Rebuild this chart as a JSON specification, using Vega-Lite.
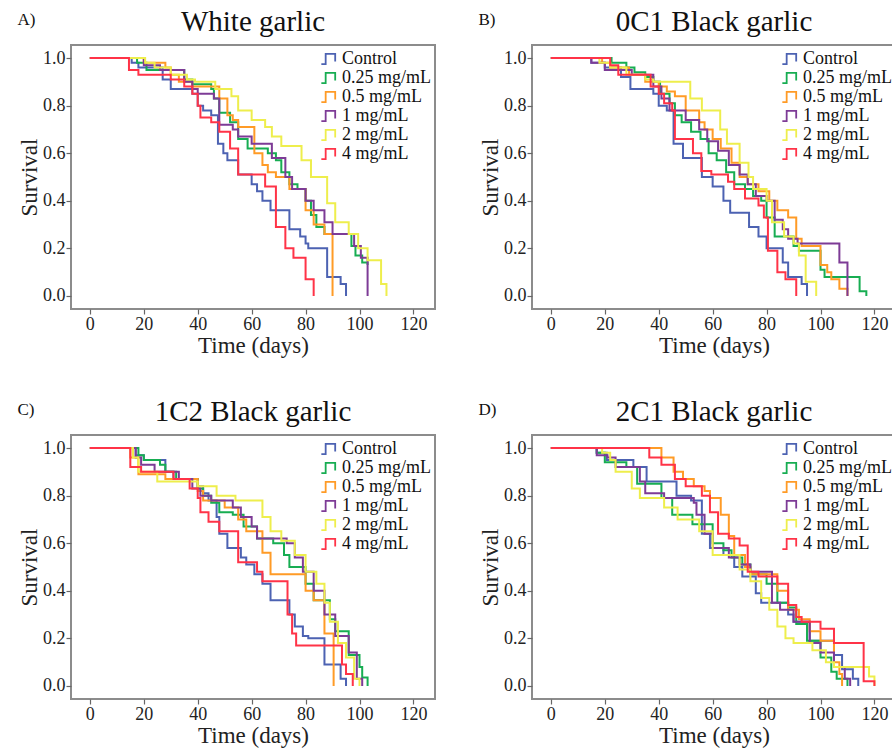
{
"$schema":"https://vega.github.io/schema/vega-lite/v6.json",
"padding":{"left":17,"top":7,"right":0,"bottom":0},
"config":{
 "font":"Liberation Serif",
 "view":{"stroke":"#8c8c8c","strokeWidth":2},
 "axis":{"domain":false,"grid":false,"tickColor":"#666","tickSize":5,"tickWidth":1.2,"labelFontSize":18,"labelColor":"#222","labelFont":"Liberation Serif","titleFontSize":23,"titleFontWeight":"normal","titleColor":"#222","titleFont":"Liberation Serif","labelPadding":1,"titlePadding":1},
 "title":{"fontSize":29,"fontWeight":"normal","font":"Liberation Serif","color":"#111","offset":8},
 "legend":{"orient":"top-right","offset":4,"padding":0,"rowPadding":0,"labelFontSize":18,"labelFont":"Liberation Serif","labelColor":"#111","labelOffset":2,"symbolType":"M-1,0.6H-0.5V-0.6H0.6V0.3","symbolSize":300,"symbolStrokeWidth":1.8}
},
"datasets":{"km":[
{"p":"A","g":"Control","t":0,"s":1},{"p":"A","g":"Control","t":15.5,"s":0.98},{"p":"A","g":"Control","t":18,"s":0.96},{"p":"A","g":"Control","t":27,"s":0.91},{"p":"A","g":"Control","t":30,"s":0.87},{"p":"A","g":"Control","t":38,"s":0.85},{"p":"A","g":"Control","t":40,"s":0.8},{"p":"A","g":"Control","t":42,"s":0.78},{"p":"A","g":"Control","t":45,"s":0.76},{"p":"A","g":"Control","t":47.5,"s":0.64},{"p":"A","g":"Control","t":49.5,"s":0.6},{"p":"A","g":"Control","t":51,"s":0.57},{"p":"A","g":"Control","t":55,"s":0.51},{"p":"A","g":"Control","t":60,"s":0.47},{"p":"A","g":"Control","t":62,"s":0.44},{"p":"A","g":"Control","t":64,"s":0.4},{"p":"A","g":"Control","t":67,"s":0.36},{"p":"A","g":"Control","t":74,"s":0.28},{"p":"A","g":"Control","t":78,"s":0.25},{"p":"A","g":"Control","t":80,"s":0.22},{"p":"A","g":"Control","t":81,"s":0.2},{"p":"A","g":"Control","t":88,"s":0.08},{"p":"A","g":"Control","t":93,"s":0.05},{"p":"A","g":"Control","t":95,"s":0},
{"p":"A","g":"0.25 mg/mL","t":0,"s":1},{"p":"A","g":"0.25 mg/mL","t":17.5,"s":0.98},{"p":"A","g":"0.25 mg/mL","t":21,"s":0.95},{"p":"A","g":"0.25 mg/mL","t":35,"s":0.91},{"p":"A","g":"0.25 mg/mL","t":38,"s":0.89},{"p":"A","g":"0.25 mg/mL","t":45,"s":0.87},{"p":"A","g":"0.25 mg/mL","t":46,"s":0.83},{"p":"A","g":"0.25 mg/mL","t":48,"s":0.77},{"p":"A","g":"0.25 mg/mL","t":52,"s":0.73},{"p":"A","g":"0.25 mg/mL","t":55,"s":0.66},{"p":"A","g":"0.25 mg/mL","t":58.5,"s":0.62},{"p":"A","g":"0.25 mg/mL","t":66,"s":0.6},{"p":"A","g":"0.25 mg/mL","t":69,"s":0.57},{"p":"A","g":"0.25 mg/mL","t":71,"s":0.52},{"p":"A","g":"0.25 mg/mL","t":74,"s":0.47},{"p":"A","g":"0.25 mg/mL","t":77,"s":0.45},{"p":"A","g":"0.25 mg/mL","t":80,"s":0.4},{"p":"A","g":"0.25 mg/mL","t":82,"s":0.34},{"p":"A","g":"0.25 mg/mL","t":84,"s":0.29},{"p":"A","g":"0.25 mg/mL","t":87,"s":0.26},{"p":"A","g":"0.25 mg/mL","t":97,"s":0.21},{"p":"A","g":"0.25 mg/mL","t":98.5,"s":0.17},{"p":"A","g":"0.25 mg/mL","t":101,"s":0.14},{"p":"A","g":"0.25 mg/mL","t":103,"s":0.13},
{"p":"A","g":"0.5 mg/mL","t":0,"s":1},{"p":"A","g":"0.5 mg/mL","t":20,"s":0.98},{"p":"A","g":"0.5 mg/mL","t":28,"s":0.96},{"p":"A","g":"0.5 mg/mL","t":30,"s":0.93},{"p":"A","g":"0.5 mg/mL","t":33,"s":0.9},{"p":"A","g":"0.5 mg/mL","t":38,"s":0.88},{"p":"A","g":"0.5 mg/mL","t":48,"s":0.83},{"p":"A","g":"0.5 mg/mL","t":51,"s":0.76},{"p":"A","g":"0.5 mg/mL","t":53,"s":0.74},{"p":"A","g":"0.5 mg/mL","t":55,"s":0.71},{"p":"A","g":"0.5 mg/mL","t":61,"s":0.6},{"p":"A","g":"0.5 mg/mL","t":64,"s":0.55},{"p":"A","g":"0.5 mg/mL","t":66,"s":0.52},{"p":"A","g":"0.5 mg/mL","t":69,"s":0.5},{"p":"A","g":"0.5 mg/mL","t":74,"s":0.45},{"p":"A","g":"0.5 mg/mL","t":80,"s":0.36},{"p":"A","g":"0.5 mg/mL","t":83,"s":0.3},{"p":"A","g":"0.5 mg/mL","t":87,"s":0.26},{"p":"A","g":"0.5 mg/mL","t":90,"s":0},
{"p":"A","g":"1 mg/mL","t":0,"s":1},{"p":"A","g":"1 mg/mL","t":20,"s":0.97},{"p":"A","g":"1 mg/mL","t":26,"s":0.95},{"p":"A","g":"1 mg/mL","t":35,"s":0.9},{"p":"A","g":"1 mg/mL","t":38,"s":0.87},{"p":"A","g":"1 mg/mL","t":40,"s":0.85},{"p":"A","g":"1 mg/mL","t":46,"s":0.83},{"p":"A","g":"1 mg/mL","t":48,"s":0.72},{"p":"A","g":"1 mg/mL","t":53,"s":0.7},{"p":"A","g":"1 mg/mL","t":55,"s":0.67},{"p":"A","g":"1 mg/mL","t":60,"s":0.64},{"p":"A","g":"1 mg/mL","t":67.5,"s":0.58},{"p":"A","g":"1 mg/mL","t":72.5,"s":0.5},{"p":"A","g":"1 mg/mL","t":75,"s":0.45},{"p":"A","g":"1 mg/mL","t":80,"s":0.4},{"p":"A","g":"1 mg/mL","t":83,"s":0.36},{"p":"A","g":"1 mg/mL","t":87,"s":0.31},{"p":"A","g":"1 mg/mL","t":90,"s":0.26},{"p":"A","g":"1 mg/mL","t":98,"s":0.21},{"p":"A","g":"1 mg/mL","t":100.5,"s":0.16},{"p":"A","g":"1 mg/mL","t":103,"s":0},
{"p":"A","g":"2 mg/mL","t":0,"s":1},{"p":"A","g":"2 mg/mL","t":20.5,"s":0.98},{"p":"A","g":"2 mg/mL","t":24,"s":0.96},{"p":"A","g":"2 mg/mL","t":30,"s":0.93},{"p":"A","g":"2 mg/mL","t":36,"s":0.91},{"p":"A","g":"2 mg/mL","t":39,"s":0.9},{"p":"A","g":"2 mg/mL","t":46.5,"s":0.87},{"p":"A","g":"2 mg/mL","t":52.5,"s":0.84},{"p":"A","g":"2 mg/mL","t":55,"s":0.78},{"p":"A","g":"2 mg/mL","t":60,"s":0.74},{"p":"A","g":"2 mg/mL","t":65,"s":0.71},{"p":"A","g":"2 mg/mL","t":67.5,"s":0.67},{"p":"A","g":"2 mg/mL","t":71,"s":0.63},{"p":"A","g":"2 mg/mL","t":78.5,"s":0.57},{"p":"A","g":"2 mg/mL","t":82,"s":0.5},{"p":"A","g":"2 mg/mL","t":88,"s":0.39},{"p":"A","g":"2 mg/mL","t":91,"s":0.31},{"p":"A","g":"2 mg/mL","t":96,"s":0.26},{"p":"A","g":"2 mg/mL","t":99.5,"s":0.2},{"p":"A","g":"2 mg/mL","t":103,"s":0.15},{"p":"A","g":"2 mg/mL","t":108,"s":0.05},{"p":"A","g":"2 mg/mL","t":110,"s":0},
{"p":"A","g":"4 mg/mL","t":0,"s":1},{"p":"A","g":"4 mg/mL","t":14.5,"s":0.95},{"p":"A","g":"4 mg/mL","t":18,"s":0.93},{"p":"A","g":"4 mg/mL","t":30,"s":0.91},{"p":"A","g":"4 mg/mL","t":35,"s":0.88},{"p":"A","g":"4 mg/mL","t":38,"s":0.85},{"p":"A","g":"4 mg/mL","t":40,"s":0.8},{"p":"A","g":"4 mg/mL","t":41,"s":0.75},{"p":"A","g":"4 mg/mL","t":45,"s":0.73},{"p":"A","g":"4 mg/mL","t":48,"s":0.69},{"p":"A","g":"4 mg/mL","t":52,"s":0.62},{"p":"A","g":"4 mg/mL","t":55,"s":0.51},{"p":"A","g":"4 mg/mL","t":65,"s":0.46},{"p":"A","g":"4 mg/mL","t":69,"s":0.29},{"p":"A","g":"4 mg/mL","t":72.5,"s":0.2},{"p":"A","g":"4 mg/mL","t":75.5,"s":0.16},{"p":"A","g":"4 mg/mL","t":80,"s":0.07},{"p":"A","g":"4 mg/mL","t":83,"s":0},

{"p":"B","g":"Control","t":0,"s":1},{"p":"B","g":"Control","t":15,"s":0.98},{"p":"B","g":"Control","t":20,"s":0.96},{"p":"B","g":"Control","t":26,"s":0.92},{"p":"B","g":"Control","t":29.5,"s":0.87},{"p":"B","g":"Control","t":38,"s":0.85},{"p":"B","g":"Control","t":40,"s":0.8},{"p":"B","g":"Control","t":43,"s":0.78},{"p":"B","g":"Control","t":45.5,"s":0.64},{"p":"B","g":"Control","t":49,"s":0.58},{"p":"B","g":"Control","t":56,"s":0.5},{"p":"B","g":"Control","t":60,"s":0.46},{"p":"B","g":"Control","t":64,"s":0.4},{"p":"B","g":"Control","t":66.5,"s":0.35},{"p":"B","g":"Control","t":73.5,"s":0.29},{"p":"B","g":"Control","t":77,"s":0.25},{"p":"B","g":"Control","t":80,"s":0.2},{"p":"B","g":"Control","t":86,"s":0.14},{"p":"B","g":"Control","t":88,"s":0.08},{"p":"B","g":"Control","t":93,"s":0.05},{"p":"B","g":"Control","t":95,"s":0},
{"p":"B","g":"0.25 mg/mL","t":0,"s":1},{"p":"B","g":"0.25 mg/mL","t":22.5,"s":0.98},{"p":"B","g":"0.25 mg/mL","t":28,"s":0.96},{"p":"B","g":"0.25 mg/mL","t":31,"s":0.94},{"p":"B","g":"0.25 mg/mL","t":35,"s":0.92},{"p":"B","g":"0.25 mg/mL","t":38,"s":0.9},{"p":"B","g":"0.25 mg/mL","t":40.5,"s":0.85},{"p":"B","g":"0.25 mg/mL","t":44,"s":0.81},{"p":"B","g":"0.25 mg/mL","t":46,"s":0.76},{"p":"B","g":"0.25 mg/mL","t":48.5,"s":0.73},{"p":"B","g":"0.25 mg/mL","t":52,"s":0.69},{"p":"B","g":"0.25 mg/mL","t":55.5,"s":0.66},{"p":"B","g":"0.25 mg/mL","t":58.5,"s":0.6},{"p":"B","g":"0.25 mg/mL","t":61.5,"s":0.57},{"p":"B","g":"0.25 mg/mL","t":65,"s":0.52},{"p":"B","g":"0.25 mg/mL","t":68,"s":0.47},{"p":"B","g":"0.25 mg/mL","t":72,"s":0.45},{"p":"B","g":"0.25 mg/mL","t":75,"s":0.42},{"p":"B","g":"0.25 mg/mL","t":78,"s":0.4},{"p":"B","g":"0.25 mg/mL","t":80,"s":0.33},{"p":"B","g":"0.25 mg/mL","t":83,"s":0.25},{"p":"B","g":"0.25 mg/mL","t":90,"s":0.21},{"p":"B","g":"0.25 mg/mL","t":92,"s":0.19},{"p":"B","g":"0.25 mg/mL","t":100,"s":0.11},{"p":"B","g":"0.25 mg/mL","t":101.5,"s":0.08},{"p":"B","g":"0.25 mg/mL","t":114.5,"s":0.02},{"p":"B","g":"0.25 mg/mL","t":117,"s":0},
{"p":"B","g":"0.5 mg/mL","t":0,"s":1},{"p":"B","g":"0.5 mg/mL","t":19,"s":0.98},{"p":"B","g":"0.5 mg/mL","t":22,"s":0.96},{"p":"B","g":"0.5 mg/mL","t":29,"s":0.93},{"p":"B","g":"0.5 mg/mL","t":35,"s":0.9},{"p":"B","g":"0.5 mg/mL","t":40,"s":0.88},{"p":"B","g":"0.5 mg/mL","t":43,"s":0.86},{"p":"B","g":"0.5 mg/mL","t":46,"s":0.84},{"p":"B","g":"0.5 mg/mL","t":50,"s":0.78},{"p":"B","g":"0.5 mg/mL","t":55,"s":0.73},{"p":"B","g":"0.5 mg/mL","t":57,"s":0.7},{"p":"B","g":"0.5 mg/mL","t":60,"s":0.66},{"p":"B","g":"0.5 mg/mL","t":63,"s":0.62},{"p":"B","g":"0.5 mg/mL","t":67,"s":0.56},{"p":"B","g":"0.5 mg/mL","t":70,"s":0.5},{"p":"B","g":"0.5 mg/mL","t":73,"s":0.47},{"p":"B","g":"0.5 mg/mL","t":77,"s":0.44},{"p":"B","g":"0.5 mg/mL","t":81,"s":0.4},{"p":"B","g":"0.5 mg/mL","t":84,"s":0.36},{"p":"B","g":"0.5 mg/mL","t":88,"s":0.33},{"p":"B","g":"0.5 mg/mL","t":91,"s":0.24},{"p":"B","g":"0.5 mg/mL","t":93,"s":0.21},{"p":"B","g":"0.5 mg/mL","t":100,"s":0.13},{"p":"B","g":"0.5 mg/mL","t":102.5,"s":0.1},{"p":"B","g":"0.5 mg/mL","t":104,"s":0.07},{"p":"B","g":"0.5 mg/mL","t":107,"s":0.03},{"p":"B","g":"0.5 mg/mL","t":110,"s":0},
{"p":"B","g":"1 mg/mL","t":0,"s":1},{"p":"B","g":"1 mg/mL","t":15,"s":0.98},{"p":"B","g":"1 mg/mL","t":20,"s":0.95},{"p":"B","g":"1 mg/mL","t":30,"s":0.93},{"p":"B","g":"1 mg/mL","t":38,"s":0.88},{"p":"B","g":"1 mg/mL","t":41,"s":0.83},{"p":"B","g":"1 mg/mL","t":44,"s":0.78},{"p":"B","g":"1 mg/mL","t":50,"s":0.74},{"p":"B","g":"1 mg/mL","t":55,"s":0.7},{"p":"B","g":"1 mg/mL","t":58,"s":0.65},{"p":"B","g":"1 mg/mL","t":62,"s":0.61},{"p":"B","g":"1 mg/mL","t":66,"s":0.55},{"p":"B","g":"1 mg/mL","t":70,"s":0.51},{"p":"B","g":"1 mg/mL","t":73,"s":0.47},{"p":"B","g":"1 mg/mL","t":76,"s":0.42},{"p":"B","g":"1 mg/mL","t":80,"s":0.4},{"p":"B","g":"1 mg/mL","t":83,"s":0.32},{"p":"B","g":"1 mg/mL","t":86,"s":0.28},{"p":"B","g":"1 mg/mL","t":88,"s":0.24},{"p":"B","g":"1 mg/mL","t":91.5,"s":0.22},{"p":"B","g":"1 mg/mL","t":107,"s":0.14},{"p":"B","g":"1 mg/mL","t":110,"s":0},
{"p":"B","g":"2 mg/mL","t":0,"s":1},{"p":"B","g":"2 mg/mL","t":18,"s":0.98},{"p":"B","g":"2 mg/mL","t":22,"s":0.96},{"p":"B","g":"2 mg/mL","t":28,"s":0.93},{"p":"B","g":"2 mg/mL","t":35,"s":0.91},{"p":"B","g":"2 mg/mL","t":38,"s":0.9},{"p":"B","g":"2 mg/mL","t":51.7,"s":0.83},{"p":"B","g":"2 mg/mL","t":56,"s":0.78},{"p":"B","g":"2 mg/mL","t":62.8,"s":0.7},{"p":"B","g":"2 mg/mL","t":65.3,"s":0.64},{"p":"B","g":"2 mg/mL","t":70,"s":0.56},{"p":"B","g":"2 mg/mL","t":73.3,"s":0.5},{"p":"B","g":"2 mg/mL","t":75,"s":0.45},{"p":"B","g":"2 mg/mL","t":80,"s":0.4},{"p":"B","g":"2 mg/mL","t":82,"s":0.31},{"p":"B","g":"2 mg/mL","t":86.5,"s":0.25},{"p":"B","g":"2 mg/mL","t":90,"s":0.22},{"p":"B","g":"2 mg/mL","t":92,"s":0.17},{"p":"B","g":"2 mg/mL","t":94.5,"s":0.06},{"p":"B","g":"2 mg/mL","t":98.4,"s":0},
{"p":"B","g":"4 mg/mL","t":0,"s":1},{"p":"B","g":"4 mg/mL","t":22,"s":0.97},{"p":"B","g":"4 mg/mL","t":25,"s":0.93},{"p":"B","g":"4 mg/mL","t":37,"s":0.88},{"p":"B","g":"4 mg/mL","t":40,"s":0.85},{"p":"B","g":"4 mg/mL","t":42,"s":0.81},{"p":"B","g":"4 mg/mL","t":45,"s":0.78},{"p":"B","g":"4 mg/mL","t":46,"s":0.66},{"p":"B","g":"4 mg/mL","t":52.7,"s":0.6},{"p":"B","g":"4 mg/mL","t":55.8,"s":0.525},{"p":"B","g":"4 mg/mL","t":59.5,"s":0.51},{"p":"B","g":"4 mg/mL","t":65.7,"s":0.48},{"p":"B","g":"4 mg/mL","t":68,"s":0.45},{"p":"B","g":"4 mg/mL","t":72,"s":0.41},{"p":"B","g":"4 mg/mL","t":77,"s":0.38},{"p":"B","g":"4 mg/mL","t":79,"s":0.33},{"p":"B","g":"4 mg/mL","t":80.5,"s":0.19},{"p":"B","g":"4 mg/mL","t":84,"s":0.1},{"p":"B","g":"4 mg/mL","t":87,"s":0.07},{"p":"B","g":"4 mg/mL","t":91,"s":0},

{"p":"C","g":"Control","t":0,"s":1},{"p":"C","g":"Control","t":17,"s":0.97},{"p":"C","g":"Control","t":20,"s":0.95},{"p":"C","g":"Control","t":28,"s":0.9},{"p":"C","g":"Control","t":31,"s":0.87},{"p":"C","g":"Control","t":40,"s":0.84},{"p":"C","g":"Control","t":42,"s":0.81},{"p":"C","g":"Control","t":44,"s":0.78},{"p":"C","g":"Control","t":47,"s":0.71},{"p":"C","g":"Control","t":48,"s":0.64},{"p":"C","g":"Control","t":51,"s":0.58},{"p":"C","g":"Control","t":56,"s":0.54},{"p":"C","g":"Control","t":58,"s":0.51},{"p":"C","g":"Control","t":61,"s":0.47},{"p":"C","g":"Control","t":64,"s":0.43},{"p":"C","g":"Control","t":67,"s":0.36},{"p":"C","g":"Control","t":74,"s":0.3},{"p":"C","g":"Control","t":76,"s":0.25},{"p":"C","g":"Control","t":79,"s":0.21},{"p":"C","g":"Control","t":81,"s":0.2},{"p":"C","g":"Control","t":87,"s":0.09},{"p":"C","g":"Control","t":93,"s":0.03},{"p":"C","g":"Control","t":95,"s":0},
{"p":"C","g":"0.25 mg/mL","t":0,"s":1},{"p":"C","g":"0.25 mg/mL","t":18,"s":0.97},{"p":"C","g":"0.25 mg/mL","t":20,"s":0.95},{"p":"C","g":"0.25 mg/mL","t":26,"s":0.93},{"p":"C","g":"0.25 mg/mL","t":28,"s":0.9},{"p":"C","g":"0.25 mg/mL","t":32,"s":0.87},{"p":"C","g":"0.25 mg/mL","t":40,"s":0.83},{"p":"C","g":"0.25 mg/mL","t":42,"s":0.8},{"p":"C","g":"0.25 mg/mL","t":45,"s":0.77},{"p":"C","g":"0.25 mg/mL","t":48,"s":0.73},{"p":"C","g":"0.25 mg/mL","t":53,"s":0.72},{"p":"C","g":"0.25 mg/mL","t":57,"s":0.67},{"p":"C","g":"0.25 mg/mL","t":62,"s":0.62},{"p":"C","g":"0.25 mg/mL","t":68,"s":0.6},{"p":"C","g":"0.25 mg/mL","t":72,"s":0.55},{"p":"C","g":"0.25 mg/mL","t":74,"s":0.5},{"p":"C","g":"0.25 mg/mL","t":80,"s":0.43},{"p":"C","g":"0.25 mg/mL","t":83,"s":0.36},{"p":"C","g":"0.25 mg/mL","t":89,"s":0.28},{"p":"C","g":"0.25 mg/mL","t":91,"s":0.23},{"p":"C","g":"0.25 mg/mL","t":96,"s":0.13},{"p":"C","g":"0.25 mg/mL","t":100,"s":0.08},{"p":"C","g":"0.25 mg/mL","t":101,"s":0.035},{"p":"C","g":"0.25 mg/mL","t":103,"s":0},
{"p":"C","g":"0.5 mg/mL","t":0,"s":1},{"p":"C","g":"0.5 mg/mL","t":15,"s":0.96},{"p":"C","g":"0.5 mg/mL","t":18,"s":0.89},{"p":"C","g":"0.5 mg/mL","t":28,"s":0.87},{"p":"C","g":"0.5 mg/mL","t":40,"s":0.82},{"p":"C","g":"0.5 mg/mL","t":42,"s":0.78},{"p":"C","g":"0.5 mg/mL","t":50,"s":0.75},{"p":"C","g":"0.5 mg/mL","t":55,"s":0.7},{"p":"C","g":"0.5 mg/mL","t":58,"s":0.65},{"p":"C","g":"0.5 mg/mL","t":64,"s":0.56},{"p":"C","g":"0.5 mg/mL","t":67,"s":0.47},{"p":"C","g":"0.5 mg/mL","t":80,"s":0.4},{"p":"C","g":"0.5 mg/mL","t":83,"s":0.36},{"p":"C","g":"0.5 mg/mL","t":87,"s":0.22},{"p":"C","g":"0.5 mg/mL","t":90.4,"s":0},
{"p":"C","g":"1 mg/mL","t":0,"s":1},{"p":"C","g":"1 mg/mL","t":17,"s":0.96},{"p":"C","g":"1 mg/mL","t":19,"s":0.93},{"p":"C","g":"1 mg/mL","t":24,"s":0.9},{"p":"C","g":"1 mg/mL","t":33,"s":0.87},{"p":"C","g":"1 mg/mL","t":38,"s":0.83},{"p":"C","g":"1 mg/mL","t":41,"s":0.8},{"p":"C","g":"1 mg/mL","t":45,"s":0.78},{"p":"C","g":"1 mg/mL","t":53,"s":0.75},{"p":"C","g":"1 mg/mL","t":56,"s":0.71},{"p":"C","g":"1 mg/mL","t":60,"s":0.67},{"p":"C","g":"1 mg/mL","t":62,"s":0.62},{"p":"C","g":"1 mg/mL","t":73,"s":0.6},{"p":"C","g":"1 mg/mL","t":76,"s":0.54},{"p":"C","g":"1 mg/mL","t":79,"s":0.48},{"p":"C","g":"1 mg/mL","t":83,"s":0.4},{"p":"C","g":"1 mg/mL","t":87,"s":0.3},{"p":"C","g":"1 mg/mL","t":91,"s":0.21},{"p":"C","g":"1 mg/mL","t":96,"s":0.14},{"p":"C","g":"1 mg/mL","t":99,"s":0.03},{"p":"C","g":"1 mg/mL","t":101,"s":0},
{"p":"C","g":"2 mg/mL","t":0,"s":1},{"p":"C","g":"2 mg/mL","t":16,"s":0.96},{"p":"C","g":"2 mg/mL","t":18,"s":0.9},{"p":"C","g":"2 mg/mL","t":25,"s":0.86},{"p":"C","g":"2 mg/mL","t":40,"s":0.84},{"p":"C","g":"2 mg/mL","t":47,"s":0.8},{"p":"C","g":"2 mg/mL","t":54,"s":0.78},{"p":"C","g":"2 mg/mL","t":64,"s":0.71},{"p":"C","g":"2 mg/mL","t":67,"s":0.65},{"p":"C","g":"2 mg/mL","t":71,"s":0.61},{"p":"C","g":"2 mg/mL","t":76,"s":0.55},{"p":"C","g":"2 mg/mL","t":80,"s":0.48},{"p":"C","g":"2 mg/mL","t":84,"s":0.43},{"p":"C","g":"2 mg/mL","t":87,"s":0.35},{"p":"C","g":"2 mg/mL","t":89,"s":0.27},{"p":"C","g":"2 mg/mL","t":92,"s":0.18},{"p":"C","g":"2 mg/mL","t":95,"s":0.12},{"p":"C","g":"2 mg/mL","t":98,"s":0.03},{"p":"C","g":"2 mg/mL","t":100,"s":0},
{"p":"C","g":"4 mg/mL","t":0,"s":1},{"p":"C","g":"4 mg/mL","t":15,"s":0.92},{"p":"C","g":"4 mg/mL","t":19,"s":0.9},{"p":"C","g":"4 mg/mL","t":31,"s":0.87},{"p":"C","g":"4 mg/mL","t":37,"s":0.83},{"p":"C","g":"4 mg/mL","t":40,"s":0.79},{"p":"C","g":"4 mg/mL","t":41,"s":0.73},{"p":"C","g":"4 mg/mL","t":44,"s":0.69},{"p":"C","g":"4 mg/mL","t":48,"s":0.65},{"p":"C","g":"4 mg/mL","t":55,"s":0.52},{"p":"C","g":"4 mg/mL","t":62,"s":0.48},{"p":"C","g":"4 mg/mL","t":64,"s":0.44},{"p":"C","g":"4 mg/mL","t":73.3,"s":0.3},{"p":"C","g":"4 mg/mL","t":75,"s":0.22},{"p":"C","g":"4 mg/mL","t":76.5,"s":0.17},{"p":"C","g":"4 mg/mL","t":93.5,"s":0.09},{"p":"C","g":"4 mg/mL","t":95,"s":0.05},{"p":"C","g":"4 mg/mL","t":97.5,"s":0},

{"p":"D","g":"Control","t":0,"s":1},{"p":"D","g":"Control","t":17,"s":0.98},{"p":"D","g":"Control","t":20.7,"s":0.95},{"p":"D","g":"Control","t":30.6,"s":0.92},{"p":"D","g":"Control","t":35.5,"s":0.86},{"p":"D","g":"Control","t":46.6,"s":0.8},{"p":"D","g":"Control","t":52,"s":0.78},{"p":"D","g":"Control","t":56,"s":0.64},{"p":"D","g":"Control","t":59,"s":0.58},{"p":"D","g":"Control","t":64,"s":0.55},{"p":"D","g":"Control","t":68,"s":0.5},{"p":"D","g":"Control","t":71,"s":0.46},{"p":"D","g":"Control","t":76,"s":0.39},{"p":"D","g":"Control","t":78,"s":0.35},{"p":"D","g":"Control","t":88,"s":0.3},{"p":"D","g":"Control","t":90,"s":0.27},{"p":"D","g":"Control","t":96,"s":0.19},{"p":"D","g":"Control","t":105,"s":0.13},{"p":"D","g":"Control","t":108,"s":0.07},{"p":"D","g":"Control","t":112,"s":0.03},{"p":"D","g":"Control","t":114,"s":0},
{"p":"D","g":"0.25 mg/mL","t":0,"s":1},{"p":"D","g":"0.25 mg/mL","t":17,"s":0.98},{"p":"D","g":"0.25 mg/mL","t":20,"s":0.94},{"p":"D","g":"0.25 mg/mL","t":28,"s":0.92},{"p":"D","g":"0.25 mg/mL","t":32,"s":0.85},{"p":"D","g":"0.25 mg/mL","t":41,"s":0.79},{"p":"D","g":"0.25 mg/mL","t":45,"s":0.72},{"p":"D","g":"0.25 mg/mL","t":52.5,"s":0.68},{"p":"D","g":"0.25 mg/mL","t":60,"s":0.6},{"p":"D","g":"0.25 mg/mL","t":64,"s":0.57},{"p":"D","g":"0.25 mg/mL","t":67,"s":0.54},{"p":"D","g":"0.25 mg/mL","t":71,"s":0.51},{"p":"D","g":"0.25 mg/mL","t":74,"s":0.47},{"p":"D","g":"0.25 mg/mL","t":80,"s":0.43},{"p":"D","g":"0.25 mg/mL","t":84,"s":0.35},{"p":"D","g":"0.25 mg/mL","t":88,"s":0.33},{"p":"D","g":"0.25 mg/mL","t":91,"s":0.26},{"p":"D","g":"0.25 mg/mL","t":95,"s":0.19},{"p":"D","g":"0.25 mg/mL","t":100,"s":0.12},{"p":"D","g":"0.25 mg/mL","t":104,"s":0.06},{"p":"D","g":"0.25 mg/mL","t":106,"s":0.03},{"p":"D","g":"0.25 mg/mL","t":110,"s":0},
{"p":"D","g":"0.5 mg/mL","t":0,"s":1},{"p":"D","g":"0.5 mg/mL","t":41,"s":0.96},{"p":"D","g":"0.5 mg/mL","t":45.5,"s":0.9},{"p":"D","g":"0.5 mg/mL","t":49,"s":0.87},{"p":"D","g":"0.5 mg/mL","t":53,"s":0.84},{"p":"D","g":"0.5 mg/mL","t":57,"s":0.82},{"p":"D","g":"0.5 mg/mL","t":59,"s":0.79},{"p":"D","g":"0.5 mg/mL","t":63,"s":0.72},{"p":"D","g":"0.5 mg/mL","t":66,"s":0.63},{"p":"D","g":"0.5 mg/mL","t":68,"s":0.55},{"p":"D","g":"0.5 mg/mL","t":72,"s":0.5},{"p":"D","g":"0.5 mg/mL","t":74,"s":0.47},{"p":"D","g":"0.5 mg/mL","t":84,"s":0.4},{"p":"D","g":"0.5 mg/mL","t":88,"s":0.32},{"p":"D","g":"0.5 mg/mL","t":92,"s":0.28},{"p":"D","g":"0.5 mg/mL","t":96,"s":0.23},{"p":"D","g":"0.5 mg/mL","t":100,"s":0.19},{"p":"D","g":"0.5 mg/mL","t":105,"s":0.1},{"p":"D","g":"0.5 mg/mL","t":107,"s":0.05},{"p":"D","g":"0.5 mg/mL","t":108,"s":0},
{"p":"D","g":"1 mg/mL","t":0,"s":1},{"p":"D","g":"1 mg/mL","t":17,"s":0.97},{"p":"D","g":"1 mg/mL","t":21,"s":0.96},{"p":"D","g":"1 mg/mL","t":24,"s":0.92},{"p":"D","g":"1 mg/mL","t":33,"s":0.86},{"p":"D","g":"1 mg/mL","t":35,"s":0.81},{"p":"D","g":"1 mg/mL","t":42,"s":0.79},{"p":"D","g":"1 mg/mL","t":53,"s":0.77},{"p":"D","g":"1 mg/mL","t":54,"s":0.72},{"p":"D","g":"1 mg/mL","t":57,"s":0.64},{"p":"D","g":"1 mg/mL","t":60,"s":0.58},{"p":"D","g":"1 mg/mL","t":66,"s":0.54},{"p":"D","g":"1 mg/mL","t":70,"s":0.51},{"p":"D","g":"1 mg/mL","t":74,"s":0.48},{"p":"D","g":"1 mg/mL","t":82,"s":0.35},{"p":"D","g":"1 mg/mL","t":85,"s":0.32},{"p":"D","g":"1 mg/mL","t":90,"s":0.27},{"p":"D","g":"1 mg/mL","t":96,"s":0.18},{"p":"D","g":"1 mg/mL","t":100,"s":0.14},{"p":"D","g":"1 mg/mL","t":105,"s":0.08},{"p":"D","g":"1 mg/mL","t":109,"s":0.03},{"p":"D","g":"1 mg/mL","t":111,"s":0},
{"p":"D","g":"2 mg/mL","t":0,"s":1},{"p":"D","g":"2 mg/mL","t":19,"s":0.98},{"p":"D","g":"2 mg/mL","t":22,"s":0.95},{"p":"D","g":"2 mg/mL","t":24,"s":0.9},{"p":"D","g":"2 mg/mL","t":30,"s":0.83},{"p":"D","g":"2 mg/mL","t":33,"s":0.79},{"p":"D","g":"2 mg/mL","t":42,"s":0.75},{"p":"D","g":"2 mg/mL","t":47,"s":0.7},{"p":"D","g":"2 mg/mL","t":55,"s":0.65},{"p":"D","g":"2 mg/mL","t":60,"s":0.55},{"p":"D","g":"2 mg/mL","t":70,"s":0.49},{"p":"D","g":"2 mg/mL","t":74,"s":0.44},{"p":"D","g":"2 mg/mL","t":78,"s":0.37},{"p":"D","g":"2 mg/mL","t":81,"s":0.32},{"p":"D","g":"2 mg/mL","t":84,"s":0.25},{"p":"D","g":"2 mg/mL","t":87,"s":0.2},{"p":"D","g":"2 mg/mL","t":90,"s":0.18},{"p":"D","g":"2 mg/mL","t":97,"s":0.15},{"p":"D","g":"2 mg/mL","t":102,"s":0.1},{"p":"D","g":"2 mg/mL","t":105,"s":0.08},{"p":"D","g":"2 mg/mL","t":118,"s":0.04},{"p":"D","g":"2 mg/mL","t":120,"s":0},
{"p":"D","g":"4 mg/mL","t":0,"s":1},{"p":"D","g":"4 mg/mL","t":36.5,"s":0.96},{"p":"D","g":"4 mg/mL","t":41,"s":0.93},{"p":"D","g":"4 mg/mL","t":46,"s":0.87},{"p":"D","g":"4 mg/mL","t":50,"s":0.84},{"p":"D","g":"4 mg/mL","t":56,"s":0.8},{"p":"D","g":"4 mg/mL","t":59,"s":0.73},{"p":"D","g":"4 mg/mL","t":62,"s":0.64},{"p":"D","g":"4 mg/mL","t":66,"s":0.62},{"p":"D","g":"4 mg/mL","t":70,"s":0.59},{"p":"D","g":"4 mg/mL","t":73,"s":0.48},{"p":"D","g":"4 mg/mL","t":77,"s":0.46},{"p":"D","g":"4 mg/mL","t":84,"s":0.43},{"p":"D","g":"4 mg/mL","t":88,"s":0.34},{"p":"D","g":"4 mg/mL","t":91,"s":0.29},{"p":"D","g":"4 mg/mL","t":93,"s":0.27},{"p":"D","g":"4 mg/mL","t":100,"s":0.24},{"p":"D","g":"4 mg/mL","t":105,"s":0.18},{"p":"D","g":"4 mg/mL","t":116,"s":0.02},{"p":"D","g":"4 mg/mL","t":120,"s":0}
]},
"columns":2,
"spacing":{"column":42,"row":39},
"resolve":{"scale":{"color":"independent"},"legend":{"color":"independent"}},
"concat":[
{"title":{"text":"A)","anchor":"start","fontSize":17,"dy":22,"offset":0},"resolve":{"scale":{"color":"independent"},"legend":{"color":"independent"}},"vconcat":[{
 "title":"White garlic","width":364,"height":264,"data":{"name":"km"},"transform":[{"filter":"datum.p==='A'"}],
 "mark":{"type":"line","interpolate":"step-after","strokeWidth":2},
 "encoding":{
  "x":{"field":"t","type":"quantitative","scale":{"domain":[-7,128],"nice":false,"zero":false},"axis":{"values":[0,20,40,60,80,100,120],"title":"Time (days)"}},
  "y":{"field":"s","type":"quantitative","scale":{"domain":[-0.055,1.055],"nice":false},"axis":{"values":[0,0.2,0.4,0.6,0.8,1],"format":".1f","title":"Survival"}},
  "color":{"field":"g","type":"nominal","scale":{"domain":["Control","0.25 mg/mL","0.5 mg/mL","1 mg/mL","2 mg/mL","4 mg/mL"],"range":["#4c62b2","#17ad52","#ff9b26","#7d3b96","#eeee4c","#ff3347"]},"legend":{"title":null,"orient":"top-right"}}
 }}]},
{"title":{"text":"B)","anchor":"start","fontSize":17,"dy":22,"offset":0},"resolve":{"scale":{"color":"independent"},"legend":{"color":"independent"}},"vconcat":[{
 "title":"0C1 Black garlic","width":364,"height":264,"data":{"name":"km"},"transform":[{"filter":"datum.p==='B'"}],
 "mark":{"type":"line","interpolate":"step-after","strokeWidth":2},
 "encoding":{
  "x":{"field":"t","type":"quantitative","scale":{"domain":[-7,128],"nice":false,"zero":false},"axis":{"values":[0,20,40,60,80,100,120],"title":"Time  (days)"}},
  "y":{"field":"s","type":"quantitative","scale":{"domain":[-0.055,1.055],"nice":false},"axis":{"values":[0,0.2,0.4,0.6,0.8,1],"format":".1f","title":"Survival"}},
  "color":{"field":"g","type":"nominal","scale":{"domain":["Control","0.25 mg/mL","0.5 mg/mL","1 mg/mL","2 mg/mL","4 mg/mL"],"range":["#4c62b2","#17ad52","#ff9b26","#7d3b96","#eeee4c","#ff3347"]},"legend":{"title":null,"orient":"top-right"}}
 }}]},
{"title":{"text":"C)","anchor":"start","fontSize":17,"dy":22,"offset":0},"resolve":{"scale":{"color":"independent"},"legend":{"color":"independent"}},"vconcat":[{
 "title":"1C2 Black garlic","width":364,"height":264,"data":{"name":"km"},"transform":[{"filter":"datum.p==='C'"}],
 "mark":{"type":"line","interpolate":"step-after","strokeWidth":2},
 "encoding":{
  "x":{"field":"t","type":"quantitative","scale":{"domain":[-7,128],"nice":false,"zero":false},"axis":{"values":[0,20,40,60,80,100,120],"title":"Time (days)"}},
  "y":{"field":"s","type":"quantitative","scale":{"domain":[-0.055,1.055],"nice":false},"axis":{"values":[0,0.2,0.4,0.6,0.8,1],"format":".1f","title":"Survival"}},
  "color":{"field":"g","type":"nominal","scale":{"domain":["Control","0.25 mg/mL","0.5 mg/mL","1 mg/mL","2 mg/mL","4 mg/mL"],"range":["#4c62b2","#17ad52","#ff9b26","#7d3b96","#eeee4c","#ff3347"]},"legend":{"title":null,"orient":"top-right"}}
 }}]},
{"title":{"text":"D)","anchor":"start","fontSize":17,"dy":22,"offset":0},"resolve":{"scale":{"color":"independent"},"legend":{"color":"independent"}},"vconcat":[{
 "title":"2C1 Black garlic","width":364,"height":264,"data":{"name":"km"},"transform":[{"filter":"datum.p==='D'"}],
 "mark":{"type":"line","interpolate":"step-after","strokeWidth":2},
 "encoding":{
  "x":{"field":"t","type":"quantitative","scale":{"domain":[-7,128],"nice":false,"zero":false},"axis":{"values":[0,20,40,60,80,100,120],"title":"Time (days)"}},
  "y":{"field":"s","type":"quantitative","scale":{"domain":[-0.055,1.055],"nice":false},"axis":{"values":[0,0.2,0.4,0.6,0.8,1],"format":".1f","title":"Survival"}},
  "color":{"field":"g","type":"nominal","scale":{"domain":["Control","0.25 mg/mL","0.5 mg/mL","1 mg/mL","2 mg/mL","4 mg/mL"],"range":["#4c62b2","#17ad52","#ff9b26","#7d3b96","#eeee4c","#ff3347"]},"legend":{"title":null,"orient":"top-right"}}
 }}]}
]
}
